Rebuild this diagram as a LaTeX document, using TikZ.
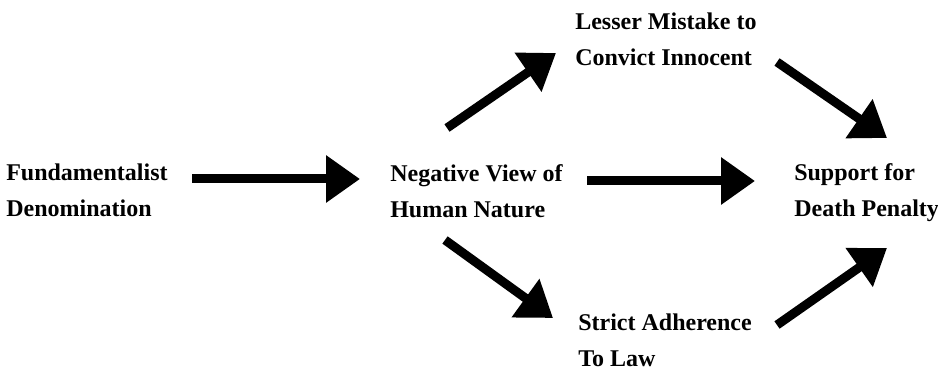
\documentclass[tikz,border=0pt]{standalone}
\usepackage{fontspec}
\setmainfont{Liberation Serif}
\usepackage{tikz}
\usetikzlibrary{arrows.meta,positioning,calc}

\begin{document}
\begin{tikzpicture}[
    x=0.75pt, y=-0.75pt,
    factbox/.style={anchor=west, inner sep=0pt, align=left,
                    font=\fontsize{18}{27}\selectfont\bfseries},
    arr/.style={-{Triangle[length=25.5pt, width=34pt]}, line width=6.75pt}
  ]
    \useasboundingbox (0,0) rectangle (938,370);

    % Source and mediator
    \node[factbox] (fund) at (6,190)     {Fundamentalist\\Denomination};
    \node[factbox] (neg)  at (390,191.5) {Negative View of\\Human Nature};

    % Paths
    \node[factbox] (less) at (575,39)    {Lesser Mistake to\\Convict Innocent};
    \node[factbox] (law)  at (578,340)   {Strict Adherence\\To Law};

    % Outcome
    \node[factbox] (supp) at (794,192.5) {Support for\\Death Penalty};

    \draw[arr] ($(fund.west)+(186,-11)$)  -- ($(neg.west)+(-30,-12.5)$);
    \draw[arr] ($(neg.west)+(57,-63.5)$)  -- ($(less.west)+(-19,14)$);
    \draw[arr] ($(neg.west)+(197,-10.5)$) -- ($(supp.west)+(-39,-11.5)$);
    \draw[arr] ($(neg.west)+(55,48.5)$)   -- ($(law.west)+(-25,-22)$);
    \draw[arr] ($(less.west)+(202,23)$)   -- ($(supp.west)+(93,-54.5)$);
    \draw[arr] ($(law.west)+(199,-15)$)   -- ($(supp.west)+(93,55.5)$);
  \end{tikzpicture}
\end{document}
